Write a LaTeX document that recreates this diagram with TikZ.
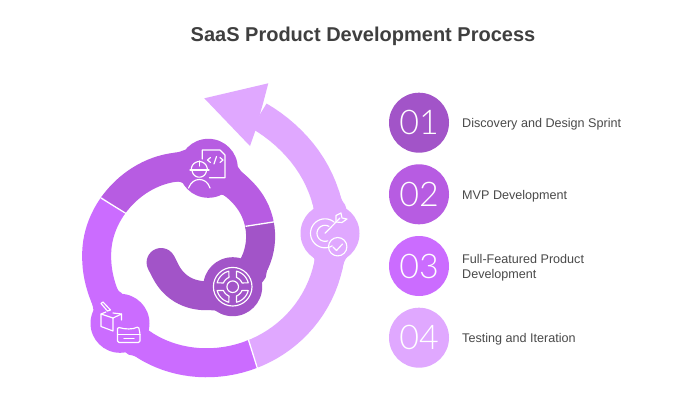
\documentclass[tikz,border=0pt]{standalone}
\usepackage{fontspec}
\setmainfont{Liberation Sans}
\newfontfamily\thinfont{Lato Light}
\definecolor{cA}{HTML}{A254C8}
\definecolor{cB}{HTML}{B75CE2}
\definecolor{cC}{HTML}{CB6CFF}
\definecolor{cD}{HTML}{E0A8FF}
\definecolor{txt}{HTML}{4A4A4A}
\definecolor{ttl}{HTML}{3F3F3F}
\tikzset{
  declare function={
    cl(\u)=min(1,max(0,\u));
    ss(\u)=cl(\u)*cl(\u)*(3-2*cl(\u));
    sb(\u)=sin(180*cl(\u))*sin(180*cl(\u));
    rr(\t)=23+62*ss((\t-210)/190)+71*ss((\t-540)/220)-3.5*sb((\t-430)/130)-2.5*sb((\t-590)/120);
    px(\t)=181+rr(\t)*cos(\t);
    py(\t)=251-rr(\t)*sin(\t);
    fw(\t,\c)=2.8*cl((32-abs(rr(\t)*(\t-\c)*0.01745))/9)*cl((32-abs(rr(\t)*(\t-\c)*0.01745))/9);
    fx(\t,\c,\h)=181+(rr(\t)+\h*(14.4+fw(\t,\c)))*cos(\t);
    fy(\t,\c,\h)=251-(rr(\t)+\h*(14.4+fw(\t,\c)))*sin(\t);
  },
  band/.style={line width=29pt,line join=round,line cap=butt},
  sep/.style={draw=white,line width=1.3pt},
  hub/.style={circle,minimum size=59pt,inner sep=0pt,draw=none},
  num/.style={circle,minimum size=60pt,inner sep=0pt,text=white,font=\thinfont\fontsize{34}{34}\selectfont},
  lab/.style={anchor=west,align=left,text=txt,inner sep=0pt,font=\fontsize{12.6}{15}\selectfont},
  ico/.style={draw=white,line width=1.15pt,line join=round,line cap=round,fill=none}
}
\newcommand{\hubneck}[3]{% colour, centre angle, half span
  \fill[#1] plot[domain=#2-#3:#2+#3,samples=28] ({fx(\x,#2,1)},{fy(\x,#2,1)})
    -- plot[domain=#2+#3:#2-#3,samples=28] ({fx(\x,#2,-1)},{fy(\x,#2,-1)}) -- cycle;
}
\begin{document}
\begin{tikzpicture}[x=1pt,y=-1pt]
\useasboundingbox (0,0) rectangle (700,400);
\fill[white] (0,0) rectangle (700,400);
\node[font=\bfseries\fontsize{20}{20}\selectfont,text=ttl,inner sep=0pt] (title) at (363,36) {SaaS Product Development Process};
% spiral band
\draw[band,cD] plot[domain=664:780,samples=40] ({px(\x)},{py(\x)});
\draw[band,cC] plot[domain=505:665,samples=50] ({px(\x)},{py(\x)});
\draw[band,cB] plot[domain=378:506,samples=40] ({px(\x)},{py(\x)});
\draw[band,cA] plot[domain=210:379,samples=50] ({px(\x)},{py(\x)});
\fill[cA] ({px(210)},{py(210)}) circle[radius=14.5pt];
\fill[cD] (204.3,98.3) -- (268.3,83.3) -- (263.3,102.3) -- (255,131.7) -- (250,146) -- cycle;
% widened necks where the band meets each hub
\hubneck{cA}{325}{32}
\hubneck{cB}{432}{24}
\hubneck{cC}{590}{21}
\hubneck{cD}{727}{14}
\draw[sep] (245.5,226.3) -- (276.5,221.5);
\draw[sep] (101,198) -- (126,213.5);
\draw[sep] (248.5,340) -- (257.5,368.5);
% hubs
\node[hub,fill=cA] (h1) at (232.7,286.7) {};
\node[hub,fill=cB] (h2) at (208.3,168.3) {};
\node[hub,fill=cC] (h3) at (120,323.3) {};
\node[hub,fill=cD] (h4) at (330,233.3) {};
% icon: wheel
\draw[ico] (h1) circle[radius=19.3pt];
\draw[ico] (h1) circle[radius=5.8pt];
\foreach \a in {0,90,180,270}{
  \draw[ico] plot[domain=\a+14:\a+76,samples=12] ({232.7+16*cos(\x)},{286.7+16*sin(\x)})
    -- plot[domain=\a+68:\a+22,samples=12] ({232.7+10*cos(\x)},{286.7+10*sin(\x)}) -- cycle;
}
% icon: engineer and code sheet
\draw[ico] (202.3,159) -- (202.3,150) -- (220,150) -- (225,155) -- (225,177.7) -- (209.5,177.7);
\draw[ico] (210.5,157.5) -- (207.5,160) -- (210.5,162.5);
\draw[ico] (214,164) -- (216.5,156.5);
\draw[ico] (220,157.5) -- (223,160) -- (220,162.5);
\draw[ico] plot[domain=180:360,samples=16] ({199.3+8*cos(\x)},{169.5+8*sin(\x)});
\draw[ico] (190,170) -- (209,170);
\draw[ico] plot[domain=0:180,samples=16] ({199.3+7.2*cos(\x)},{170+7.2*sin(\x)});
\draw[ico] (199.3,161) -- (199.3,166);
\draw[ico] (188.5,188) .. controls (191,182) and (195,179.5) .. (199.3,179.5) .. controls (204,179.5) and (208,182) .. (210,188);
% icon: box and tray
\draw[ico] (101,314) -- (113,318) -- (113,331) -- (101,326.5) -- cycle;
\draw[ico] (101,314) -- (106,312);
\draw[ico] (113,318) -- (121.5,314) -- (121.5,320);
\draw[ico] (113,313) -- (121.5,314);
\draw[ico] (101,303.5) -- (103,302) -- (110.5,310) -- (107.5,311) -- cycle;
\draw[ico,rounded corners=1.5pt] (117.5,327) .. controls (125,329.5) and (133,329.5) .. (138.5,326.5) -- (140,333.5) -- (140,342.5) -- (117.5,342.5) -- (117.5,333.5) -- cycle;
\draw[ico] (117.5,334.5) -- (140,334.5);
\draw[ico] (124,338.5) -- (134,338.5);
% icon: target and check
\draw[ico] plot[domain=60:310,samples=30] ({325+14.5*cos(\x)},{233.3+14.5*sin(\x)});
\draw[ico] plot[domain=70:300,samples=24] ({325+8*cos(\x)},{233.3+8*sin(\x)});
\draw[ico] (325,233.3) -- (340,218);
\draw[ico] (336,215.5) -- (336,222) -- (342,222.5) -- (347,219) -- (342,218) -- (341,213) -- cycle;
\draw[ico] (337.7,246.7) circle[radius=9.2pt];
\draw[ico] (333,247) -- (336.5,250.5) -- (342.5,244);
% legend
\node[num,fill=cA] (n1) at (419,122.7) {01};
\node[num,fill=cB] (n2) at (419,194.3) {02};
\node[num,fill=cC] (n3) at (419,266) {03};
\node[num,fill=cD] (n4) at (419,337.7) {04};
\node[lab] (l1) at (462,124) {Discovery and Design Sprint};
\node[lab] (l2) at (462,196) {MVP Development};
\node[lab] (l3) at (462,267.5) {Full-Featured Product\\Development};
\node[lab] (l4) at (462,339) {Testing and Iteration};
\end{tikzpicture}
\end{document}
